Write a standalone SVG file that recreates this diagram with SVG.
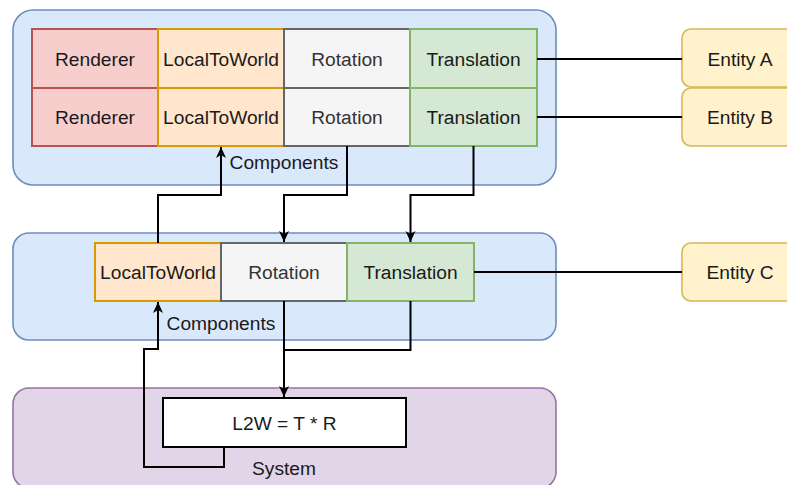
<svg xmlns="http://www.w3.org/2000/svg" width="787" height="485" viewBox="0 0 787 485">
<style>
text{font-family:"Liberation Sans",Arial,sans-serif;font-size:19.2px;fill:#1a1a1a;text-anchor:middle;dominant-baseline:central}
.red{fill:#f8cecc;stroke:#b85450;stroke-width:2}
.org{fill:#ffe6cc;stroke:#d79b00;stroke-width:2}
.gry{fill:#f5f5f5;stroke:#666666;stroke-width:2}
.grn{fill:#d5e8d4;stroke:#82b366;stroke-width:2}
.blu{fill:#dae8fc;stroke:#6c8ebf;stroke-width:1.6}
.yel{fill:#fff2cc;stroke:#d6b656;stroke-width:1.6}
.pur{fill:#e1d5e7;stroke:#9673a6;stroke-width:1.6}
.wht{fill:#ffffff;stroke:#000000;stroke-width:2}
.g{fill:#333333}
.c{fill:none;stroke:#000000;stroke-width:2}
</style>
<defs>
<marker id="arr" markerUnits="userSpaceOnUse" markerWidth="12" markerHeight="12" viewBox="0 0 12 12" refX="11" refY="6" orient="auto">
<path d="M0,1 L11,6 L0,11 L3,6 Z" fill="#000"/>
</marker>
</defs>
<g id="containers">
<rect id="top-components" class="blu" x="13" y="10" width="543" height="175" rx="20"/>
<rect id="mid-components" class="blu" x="13" y="233" width="543" height="107" rx="16"/>
<rect id="system" class="pur" x="13" y="388" width="543" height="100" rx="16"/>
<text x="284" y="162">Components</text>
<text x="221" y="323">Components</text>
<text x="284" y="468">System</text>
</g>
<g id="top-row1">
<rect class="red" x="32" y="29" width="126" height="59"/><text x="95" y="59">Renderer</text>
<rect class="org" x="158" y="29" width="126" height="59"/><text x="221" y="59">LocalToWorld</text>
<rect class="gry" x="284" y="29" width="126" height="59"/><text class="g" x="347" y="59">Rotation</text>
<rect class="grn" x="410" y="29" width="127" height="59"/><text x="473.5" y="59">Translation</text>
</g>
<g id="top-row2">
<rect class="red" x="32" y="88" width="126" height="58"/><text x="95" y="117">Renderer</text>
<rect class="org" x="158" y="88" width="126" height="58"/><text x="221" y="117">LocalToWorld</text>
<rect class="gry" x="284" y="88" width="126" height="58"/><text class="g" x="347" y="117">Rotation</text>
<rect class="grn" x="410" y="88" width="127" height="58"/><text x="473.5" y="117">Translation</text>
</g>
<g id="mid-row">
<rect class="org" x="95" y="243" width="126" height="58"/><text x="158" y="272">LocalToWorld</text>
<rect class="gry" x="221" y="243" width="126" height="58"/><text class="g" x="284" y="272">Rotation</text>
<rect class="grn" x="347" y="243" width="127" height="58"/><text x="410.5" y="272">Translation</text>
</g>
<g id="entity-a"><rect class="yel" x="682" y="29" width="118" height="58" rx="9"/><text x="740" y="59">Entity A</text></g>
<g id="entity-b"><rect class="yel" x="682" y="88" width="118" height="58" rx="9"/><text x="740" y="117">Entity B</text></g>
<g id="entity-c"><rect class="yel" x="682" y="243" width="118" height="58" rx="9"/><text x="740" y="272">Entity C</text></g>
<g id="system-box"><rect class="wht" x="163" y="398" width="243" height="49"/><text x="284.5" y="423">L2W = T * R</text></g>
<g id="connectors">
<path class="c" d="M537,59 H682"/>
<path class="c" d="M537,117 H682"/>
<path class="c" d="M474,272 H682"/>
<path class="c" d="M158,243 V195 H221 V147" marker-end="url(#arr)"/>
<path class="c" d="M347,146 V195 H284 V242" marker-end="url(#arr)"/>
<path class="c" d="M473.5,146 V195 H410.5 V242" marker-end="url(#arr)"/>
<path class="c" d="M284,301 V397" marker-end="url(#arr)"/>
<path class="c" d="M410.5,301 V350 H284"/>
<path class="c" d="M224,447 V467 H144 V349 H158 V302" marker-end="url(#arr)"/>
</g>
</svg>
